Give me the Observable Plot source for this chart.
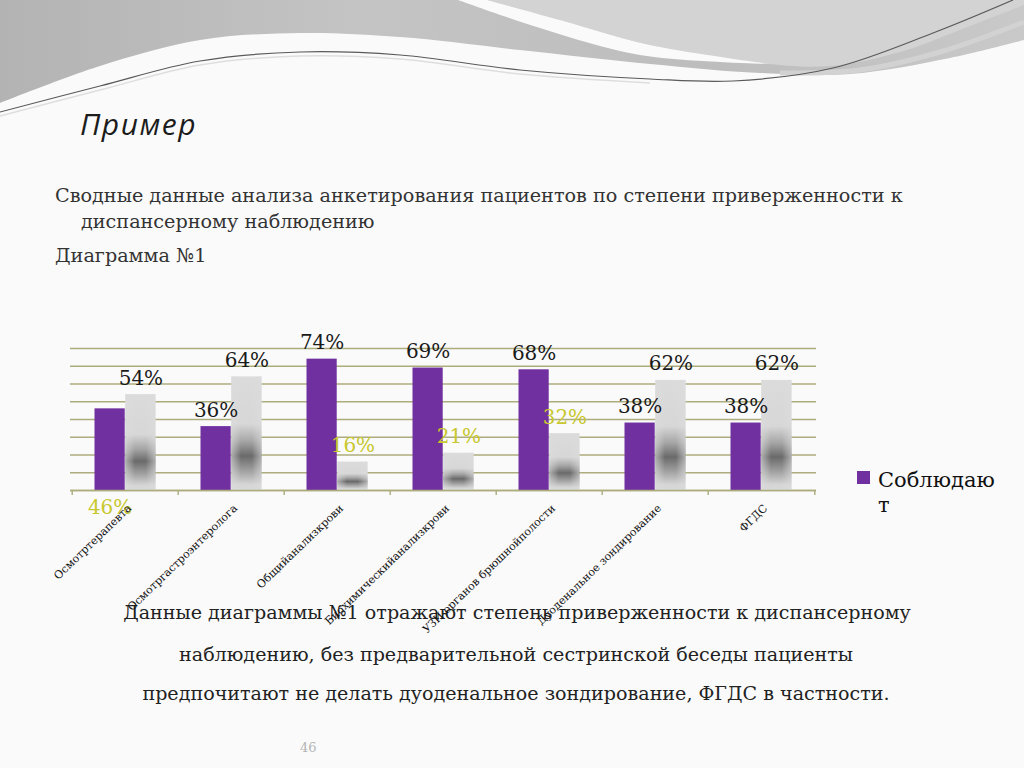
<!DOCTYPE html>
<html>
<head>
<meta charset="utf-8">
<script src="https://cdn.jsdelivr.net/npm/d3@7"></script>
<script src="https://cdn.jsdelivr.net/npm/@observablehq/plot@0.6"></script>
<style>
  html, body { margin: 0; padding: 0; width: 1024px; height: 768px; overflow: hidden; background: #fafafa; }
  #page { position: relative; width: 1024px; height: 768px; }
  #deco, #texts, #chart { position: absolute; left: 0; top: 0; }
  #chart { top: 320px; }
  #texts { pointer-events: none; }
</style>
</head>
<body>
<div id="page">
  <svg id="deco" width="1024" height="140" viewBox="0 0 1024 140"></svg>
  <svg id="texts" width="1024" height="768" viewBox="0 0 1024 768">
    <text x="80" y="135" font-family="Open Sans" font-style="italic" font-size="30" letter-spacing="1.5" fill="#1c1c1c">Пример</text>
    <g font-family="DejaVu Serif" font-size="19.2" fill="#333">
      <text x="55" y="202">Сводные данные анализа анкетирования пациентов по степени приверженности к</text>
      <text x="81" y="228">диспансерному наблюдению</text>
      <text x="55" y="262">Диаграмма №1</text>
    </g>
    <g font-family="DejaVu Serif" font-size="19.1" fill="#222" text-anchor="middle">
      <text x="517" y="619">Данные диаграммы №1 отражают степень приверженности к диспансерному</text>
      <text x="516" y="661">наблюдению, без предварительной сестринской беседы пациенты</text>
      <text x="516" y="700">предпочитают не делать дуоденальное зондирование, ФГДС в частности.</text>
    </g>
    <text x="300" y="752" font-family="DejaVu Serif" font-size="13" fill="#b5b5b5">46</text>
    <rect x="857" y="471" width="13" height="13" fill="#7030a0"></rect>
    <g font-family="DejaVu Serif" font-size="21" fill="#111">
      <text x="878" y="487">Соблюдаю</text>
      <text x="878" y="512">т</text>
    </g>
  </svg>
  <div id="chart"></div>
</div>
<script>
// ---- data ----
const categories = [
  "Осмотртерапевта",
  "Осмотргастроэнтеролога",
  "Общийанализкрови",
  "Биохимическийанализкрови",
  "УЗИ органов брюшнойполости",
  "Дуоденальное зондирование",
  "ФГДС"
];
const seriesNames = ["Соблюдают", "Не соблюдают"];
const compliant = [46, 36, 74, 69, 68, 38, 38];
const nonCompliant = [54, 64, 16, 21, 32, 62, 62];
const yTicks = [0, 10, 20, 30, 40, 50, 60, 70, 80];

// ---- decoration (background swoosh) ----
(function drawDeco() {
  const svg = d3.select("#deco");
  const defs = svg.append("defs");
  const g1 = defs.append("linearGradient").attr("id", "decoMain").attr("x1", 0).attr("x2", 1).attr("y1", 0).attr("y2", 0);
  g1.append("stop").attr("offset", 0).attr("stop-color", "#b3b3b3");
  g1.append("stop").attr("offset", 0.35).attr("stop-color", "#c4c4c4");
  g1.append("stop").attr("offset", 0.7).attr("stop-color", "#bdbdbd");
  g1.append("stop").attr("offset", 1).attr("stop-color", "#c9c9c9");
  const curve = d3.line().curve(d3.curveCatmullRom.alpha(0.5));
  const mainBottom = [[0,103],[100,66],[200,40],[300,33],[400,37],[520,50],[650,64],[760,73],[850,74],[950,58],[1024,40]];
  svg.append("path").attr("fill", "url(#decoMain)")
    .attr("d", "M0,0 L1024,0 L1024,40 " + curve(mainBottom.slice().reverse()).replace(/^M/, "L") + " Z");
  // right lighter band
  const rightBand = [[780,73],[860,70],[940,52],[1024,22]];
  svg.append("path").attr("fill", "none").attr("stroke", "#d2d2d2").attr("stroke-width", 5)
    .attr("d", curve(rightBand));
  // light gray upper-right region
  const lightEdge = [[487,0],[560,20],[650,45],[760,63],[830,66],[900,52],[960,30],[1024,5]];
  svg.append("path").attr("fill", "#d3d3d3")
    .attr("d", curve(lightEdge) + " L1024,0 Z");
  // white swoosh
  const swLow = [[458,0],[540,28],[640,55],[770,64]];
  const swUp = [[770,64],[650,45],[560,20],[487,0]];
  svg.append("path").attr("fill", "#fafafa")
    .attr("d", curve(swLow) + " " + curve(swUp).replace(/^M/, "L") + " Z");
  // thin lines
  const thin = [[0,112],[100,86],[200,61],[300,52],[400,55],[520,70],[650,79],[733,81],[833,68],[933,33],[1013,0]];
  svg.append("path").attr("fill", "none").attr("stroke", "#dedede").attr("stroke-width", 1.5)
    .attr("d", curve(thin.slice(0, 7).map(([x, y]) => [x, y + 4])));
  svg.append("path").attr("fill", "none").attr("stroke", "#5a5a5a").attr("stroke-width", 1.2)
    .attr("d", curve(thin));
})();

// ---- chart ----
const purple = "#7030a0";
const gridColor = "#acac7c";
const labelYellow = "#c8c82e";
const serif = "DejaVu Serif";

const rows = categories.flatMap((c, i) => [
  {category: c, series: seriesNames[0], value: compliant[i], index: i},
  {category: c, series: seriesNames[1], value: nonCompliant[i], index: i}
]);
const purpleRows = rows.filter(d => d.series === seriesNames[0]);
const grayRows = rows.filter(d => d.series === seriesNames[1]);

const width = 840, height = 320;
const marginLeft = 70, marginRight = 24, marginTop = 28, marginBottom = 150;
const step = (width - marginLeft - marginRight) / categories.length;
const gap = 22.5;
const barW = step / 2 - gap;

const defsMark = () => {
  const g = document.createElementNS("http://www.w3.org/2000/svg", "g");
  g.innerHTML = `
    <defs>
      <linearGradient id="grayV" x1="0" y1="0" x2="0" y2="1">
        <stop offset="0" stop-color="#dbdbdb"/>
        <stop offset="0.42" stop-color="#d7d7d7"/>
        <stop offset="0.57" stop-color="#a6a6a6"/>
        <stop offset="0.7" stop-color="#6a6a6a"/>
        <stop offset="0.83" stop-color="#a0a0a0"/>
        <stop offset="0.95" stop-color="#d5d5d5"/>
        <stop offset="1" stop-color="#d9d9d9"/>
      </linearGradient>
      <linearGradient id="grayH" x1="0" y1="0" x2="1" y2="0">
        <stop offset="0" stop-color="#dcdcdc" stop-opacity="0.6"/>
        <stop offset="0.32" stop-color="#dcdcdc" stop-opacity="0"/>
        <stop offset="0.68" stop-color="#dcdcdc" stop-opacity="0"/>
        <stop offset="1" stop-color="#dcdcdc" stop-opacity="0.6"/>
      </linearGradient>
    </defs>`;
  return g;
};

const isYellowGray = d => d.value < 50;

const chart = Plot.plot({
  width, height, marginLeft, marginRight, marginTop, marginBottom,
  x: {domain: categories, padding: 0, axis: null},
  y: {domain: [0, 80], axis: null},
  style: {background: "transparent", overflow: "visible"},
  marks: [
    defsMark,
    Plot.ruleY(yTicks, {stroke: gridColor, strokeWidth: 1.4}),
    Plot.barY(purpleRows, {x: "category", y: "value", fill: purple, insetLeft: gap, insetRight: step / 2}),
    Plot.barY(grayRows, {x: "category", y: "value", fill: "url(#grayV)", insetLeft: step / 2, insetRight: gap}),
    Plot.barY(grayRows, {x: "category", y: "value", fill: "url(#grayH)", insetLeft: step / 2, insetRight: gap}),
    Plot.ruleY([0], {stroke: gridColor, strokeWidth: 1.4}),
    Plot.ruleX(categories, {x: d => d, y1: 0, y2: 0, insetBottom: -5, dx: -step / 2, stroke: gridColor, strokeWidth: 1.4}),
    Plot.ruleX([categories[categories.length - 1]], {x: d => d, y1: 0, y2: 0, insetBottom: -5, dx: step / 2, stroke: gridColor, strokeWidth: 1.4}),
    // value labels: compliant
    Plot.text(purpleRows.filter(d => d.index !== 0), {x: "category", y: "value", text: d => d.value + "%", dx: -barW / 2, dy: -16.5, lineAnchor: "middle", fill: "#1a1a1a", fontSize: 20, fontFamily: serif}),
    Plot.text(purpleRows.filter(d => d.index === 0), {x: "category", y: 0, text: d => d.value + "%", dx: -barW / 2, dy: 17, lineAnchor: "middle", fill: labelYellow, fontSize: 20, fontFamily: serif}),
    // value labels: non-compliant
    Plot.text(grayRows, {x: "category", y: "value", text: d => d.value + "%", dx: barW / 2, dy: -16.5, lineAnchor: "middle", fill: d => isYellowGray(d) ? labelYellow : "#1a1a1a", fontSize: 20, fontFamily: serif}),
    // category labels
    Plot.text(categories, {x: d => d, y: 0, text: d => d, rotate: -44, textAnchor: "end", lineAnchor: "middle", dx: 4, dy: 16, fill: "#111", fontSize: 11, fontFamily: serif})
  ]
});
document.getElementById("chart").appendChild(chart);
</script>
</body>
</html>
